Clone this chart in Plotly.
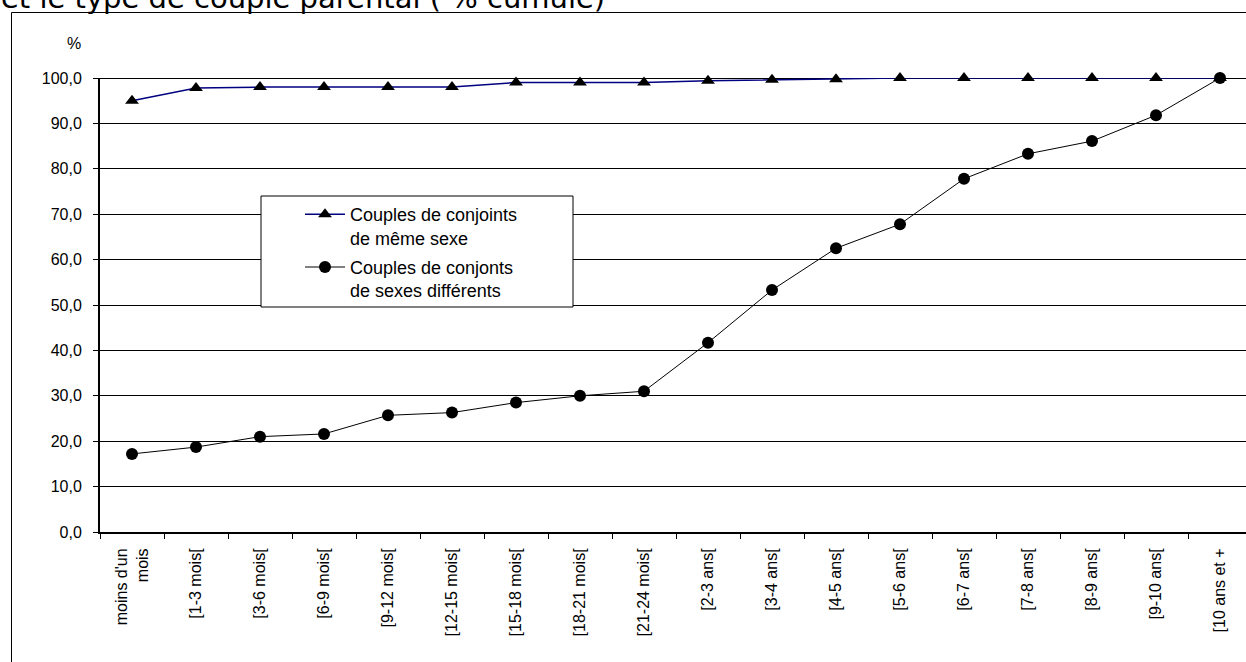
import plotly.graph_objects as go

categories = ["moins d'un<br>mois", "[1-3 mois[", "[3-6 mois[", "[6-9 mois[", "[9-12 mois[",
              "[12-15 mois[", "[15-18 mois[", "[18-21 mois[", "[21-24 mois[", "[2-3 ans[",
              "[3-4 ans[", "[4-5 ans[", "[5-6 ans[", "[6-7 ans[", "[7-8 ans[", "[8-9 ans[",
              "[9-10 ans[", "[10 ans et +"]
meme_sexe = [95.0, 97.8, 98.0, 98.0, 98.0, 98.0, 99.0, 99.0, 99.0, 99.4,
             99.6, 99.7, 100.0, 100.0, 100.0, 100.0, 100.0, 100.0]
sexes_diff = [17.2, 18.7, 21.0, 21.6, 25.7, 26.3, 28.5, 30.0, 31.0, 41.7,
              53.3, 62.5, 67.8, 77.8, 83.3, 86.1, 91.8, 100.0]
y_ticks = [0, 10, 20, 30, 40, 50, 60, 70, 80, 90, 100]
y_ticktext = ["0,0", "10,0", "20,0", "30,0", "40,0", "50,0", "60,0", "70,0", "80,0", "90,0", "100,0"]
name_meme = "Couples de conjoints<br>de même sexe"
name_diff = "Couples de conjonts<br>de sexes différents"
title_text = "et le type de couple parental ( % cumulé)"

W, H = 1246, 662
L, R, T, B = 100, 0, 78, 130
pw, ph = W - L - R, H - T - B

def px2paper_x(px):
    return (px - L) / pw

def px2paper_y(py):
    return (H - B - py) / ph

fig = go.Figure()
fig.add_trace(go.Scatter(
    x=categories, y=meme_sexe, name=name_meme, mode="lines+markers",
    line=dict(color="#000080", width=1.5),
    marker=dict(symbol="triangle-up", size=12, color="black"),
    cliponaxis=False, legendgroup="a"))
fig.add_trace(go.Scatter(
    x=categories, y=sexes_diff, name=name_diff, mode="lines+markers",
    line=dict(color="black", width=1),
    marker=dict(symbol="circle", size=12, color="black"),
    cliponaxis=False, legendgroup="b"))

cat_w = 64.0
x_max = pw / cat_w - 0.5

shapes = [
    # outer chart frame
    dict(type="rect", xref="paper", yref="paper",
         x0=px2paper_x(11.5), x1=px2paper_x(1300), y0=px2paper_y(720), y1=px2paper_y(12.5),
         line=dict(color="black", width=1), fillcolor="rgba(0,0,0,0)", layer="below"),
    # top line at 100
    dict(type="line", xref="paper", yref="y", x0=0, x1=1, y0=100, y1=100,
         line=dict(color="black", width=2), layer="below"),
    # legend box
    dict(type="rect", xref="paper", yref="paper",
         x0=px2paper_x(261), x1=px2paper_x(573), y0=px2paper_y(307), y1=px2paper_y(196),
         line=dict(color="black", width=1), fillcolor="white", layer="above"),
]

fig.update_layout(
    width=W, height=H,
    margin=dict(l=L, r=R, t=T, b=B, pad=0),
    paper_bgcolor="white", plot_bgcolor="white",
    font=dict(family="Liberation Sans, Arial", color="black", size=16),
    showlegend=True,
    legend=dict(x=px2paper_x(300), y=px2paper_y(196), xanchor="left", yanchor="top",
                bgcolor="rgba(0,0,0,0)", borderwidth=0, font=dict(size=18),
                tracegroupgap=3, itemwidth=40, valign="top"),
    shapes=shapes,
    xaxis=dict(type="category", range=[-0.5, x_max], showgrid=False,
               showline=True, linecolor="black", linewidth=2,
               ticks="outside", ticklen=5, tickcolor="black", tickwidth=1,
               tickson="boundaries", tickangle=-90, tickfont=dict(size=16),
               ticklabelstandoff=8, zeroline=False),
    yaxis=dict(range=[0, 100], tickvals=y_ticks, ticktext=y_ticktext,
               showgrid=True, gridcolor="black", gridwidth=1,
               showline=True, linecolor="black", linewidth=2,
               ticks="outside", ticklen=5, tickcolor="black", tickwidth=1,
               tickfont=dict(size=16), ticklabelstandoff=8, zeroline=False),
    annotations=[
        dict(text="%", xref="paper", yref="paper", x=px2paper_x(64.5), y=px2paper_y(33.5),
             showarrow=False, font=dict(size=16)),
        dict(text=title_text, xref="paper", yref="paper", x=px2paper_x(-1), y=px2paper_y(-2.5),
             xanchor="left", yanchor="middle", showarrow=False,
             font=dict(family="DejaVu Sans, Verdana", size=29)),
    ],
)

fig.write_html("out.html", config={"displayModeBar": False},
               post_script="document.body.style.margin='0px';")
